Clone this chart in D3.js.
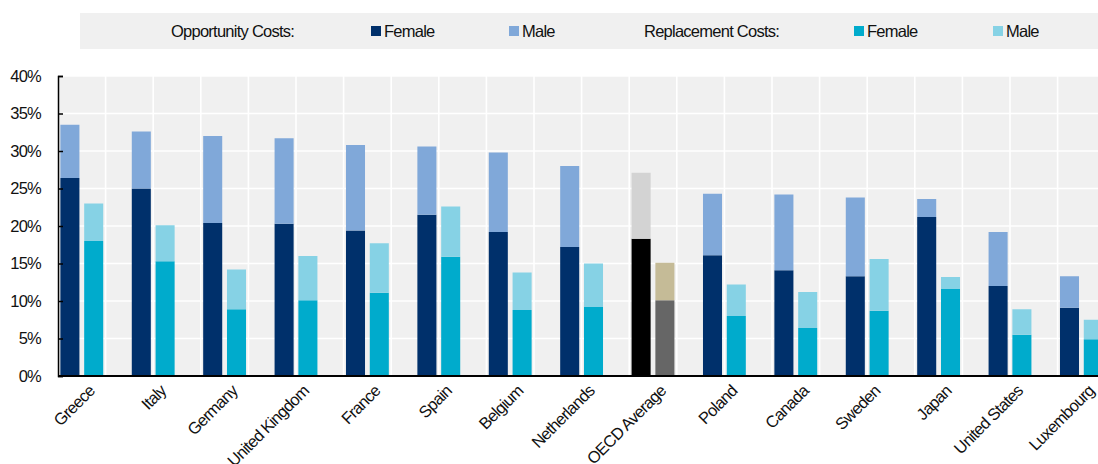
<!DOCTYPE html>
<html>
<head>
<meta charset="utf-8">
<script src="https://cdn.jsdelivr.net/npm/d3@7"></script>
<style>
  html, body { margin: 0; padding: 0; background: #ffffff; }
  svg { display: block; }
  text { font-family: "Liberation Sans", Arial, sans-serif; fill: #111; }
</style>
</head>
<body>
<svg id="chart" width="1098" height="464"></svg>
<script>
// Countries, in the order shown
const categories = ["Greece", "Italy", "Germany", "United Kingdom", "France", "Spain",
  "Belgium", "Netherlands", "OECD Average", "Poland", "Canada", "Sweden", "Japan",
  "United States", "Luxembourg"];

// Opportunity costs (%), stacked: female part, then male part on top
const oppFemale = [26.4, 25.0, 20.4, 20.3, 19.4, 21.5, 19.2, 17.2, 18.3, 16.1, 14.1, 13.3, 21.2, 12.0, 9.1];
const oppMale   = [7.1, 7.6, 11.6, 11.4, 11.4, 9.1, 10.6, 10.8, 8.8, 8.2, 10.1, 10.5, 2.4, 7.2, 4.2];

// Replacement costs (%), stacked the same way
const repFemale = [18.0, 15.3, 8.9, 10.1, 11.1, 15.9, 8.8, 9.2, 10.1, 8.0, 6.4, 8.7, 11.6, 5.5, 4.9];
const repMale   = [5.0, 4.8, 5.3, 5.9, 6.6, 6.7, 5.0, 5.8, 5.0, 4.2, 4.8, 6.9, 1.6, 3.4, 2.6];

const yTicks = [0, 5, 10, 15, 20, 25, 30, 35, 40];
const highlight = "OECD Average";

const colors = {
  oppFemale: "#00306b", oppMale: "#80a8d9",
  repFemale: "#00abcc", repMale: "#86d2e5"
};
const highlightColors = {
  oppFemale: "#000000", oppMale: "#d3d3d3",
  repFemale: "#666666", repMale: "#c5bb97"
};

const FONT_SIZE = "16.5px";
const LETTER_SPACING = "-0.75";

const svg = d3.select("#chart");

const plot = { left: 58, top: 76, bottom: 376, step: 71.4 };

const x = d3.scaleBand()
  .domain(categories)
  .range([plot.left, plot.left + plot.step * categories.length])
  .paddingInner(0).paddingOuter(0);

// three slots per country: opportunity bar, replacement bar, empty gap
const slot = d3.scaleBand()
  .domain(["opp", "rep", "gap"])
  .range([0, x.bandwidth()])
  .paddingInner(0.2).paddingOuter(0.1);

const y = d3.scaleLinear().domain([0, 40]).range([plot.bottom, plot.top]);

// plot background
svg.append("rect")
  .attr("x", plot.left).attr("y", y(40))
  .attr("width", x.range()[1] - plot.left).attr("height", y(0) - y(40))
  .attr("fill", "#f0f0f0");

// horizontal gridlines
svg.append("g").selectAll("line").data(yTicks).join("line")
  .attr("x1", plot.left).attr("x2", x.range()[1])
  .attr("y1", d => y(d)).attr("y2", d => y(d))
  .attr("stroke", "#ffffff").attr("stroke-width", 1.6);

// vertical gridlines every two slots
const slotStep = x.step() / 3;
const vLines = d3.range(2, categories.length * 3 + 1, 2).map(k => plot.left + k * slotStep);
svg.append("g").selectAll("line").data(vLines).join("line")
  .attr("x1", d => d).attr("x2", d => d)
  .attr("y1", y(40)).attr("y2", y(0))
  .attr("stroke", "#ffffff").attr("stroke-width", 1.6);

// bars
const rows = categories.map((c, i) => ({
  c, oppFemale: oppFemale[i], oppMale: oppMale[i], repFemale: repFemale[i], repMale: repMale[i]
}));

const segs = [];
rows.forEach(r => {
  const pal = r.c === highlight ? highlightColors : colors;
  segs.push({ c: r.c, s: "opp", y0: 0, y1: r.oppFemale, fill: pal.oppFemale });
  segs.push({ c: r.c, s: "opp", y0: r.oppFemale, y1: r.oppFemale + r.oppMale, fill: pal.oppMale });
  segs.push({ c: r.c, s: "rep", y0: 0, y1: r.repFemale, fill: pal.repFemale });
  segs.push({ c: r.c, s: "rep", y0: r.repFemale, y1: r.repFemale + r.repMale, fill: pal.repMale });
});

svg.append("g").selectAll("rect").data(segs).join("rect")
  .attr("x", d => x(d.c) + slot(d.s))
  .attr("width", slot.bandwidth())
  .attr("y", d => y(d.y1))
  .attr("height", d => y(d.y0) - y(d.y1))
  .attr("fill", d => d.fill);

// y axis with inward ticks
const yAxis = d3.axisLeft(y).tickValues(yTicks).tickSize(-5).tickPadding(17)
  .tickFormat(d => d + "%");
const gy = svg.append("g").attr("transform", `translate(${plot.left},0)`).call(yAxis);
gy.select(".domain").attr("stroke", "#000").attr("stroke-width", 1.5);
gy.selectAll(".tick line").attr("stroke", "#000").attr("stroke-width", 1.5);
gy.selectAll(".tick text")
  .style("font-family", "'Liberation Sans', Arial, sans-serif")
  .style("font-size", FONT_SIZE).attr("fill", "#111").attr("letter-spacing", LETTER_SPACING);

// x axis baseline
svg.append("line")
  .attr("x1", plot.left).attr("x2", x.range()[1])
  .attr("y1", y(0)).attr("y2", y(0))
  .attr("stroke", "#000").attr("stroke-width", 2);

// category labels, rotated
svg.append("g").selectAll("text").data(categories).join("text")
  .attr("transform", d => `translate(${x(d) + x.bandwidth() / 2 + 2},${y(0) + 16}) rotate(-45)`)
  .attr("text-anchor", "end")
  .attr("font-size", FONT_SIZE)
  .attr("letter-spacing", LETTER_SPACING)
  .text(d => d);

// legend
const legend = svg.append("g");
legend.append("rect").attr("x", 80).attr("y", 13).attr("width", 1018).attr("height", 36)
  .attr("fill", "#f0f0f0");
const legendItems = [
  { type: "title", label: "Opportunity Costs:", x: 171 },
  { type: "key", label: "Female", x: 371, fill: colors.oppFemale },
  { type: "key", label: "Male", x: 509, fill: colors.oppMale },
  { type: "title", label: "Replacement Costs:", x: 644 },
  { type: "key", label: "Female", x: 854, fill: colors.repFemale },
  { type: "key", label: "Male", x: 993, fill: colors.repMale }
];
legendItems.forEach(it => {
  let tx = it.x;
  if (it.type === "key") {
    legend.append("rect").attr("x", it.x).attr("y", 26).attr("width", 10).attr("height", 10)
      .attr("fill", it.fill);
    tx = it.x + 13;
  }
  legend.append("text").attr("x", tx).attr("y", 36.5)
    .attr("font-size", FONT_SIZE).attr("letter-spacing", LETTER_SPACING).text(it.label);
});
</script>
</body>
</html>
